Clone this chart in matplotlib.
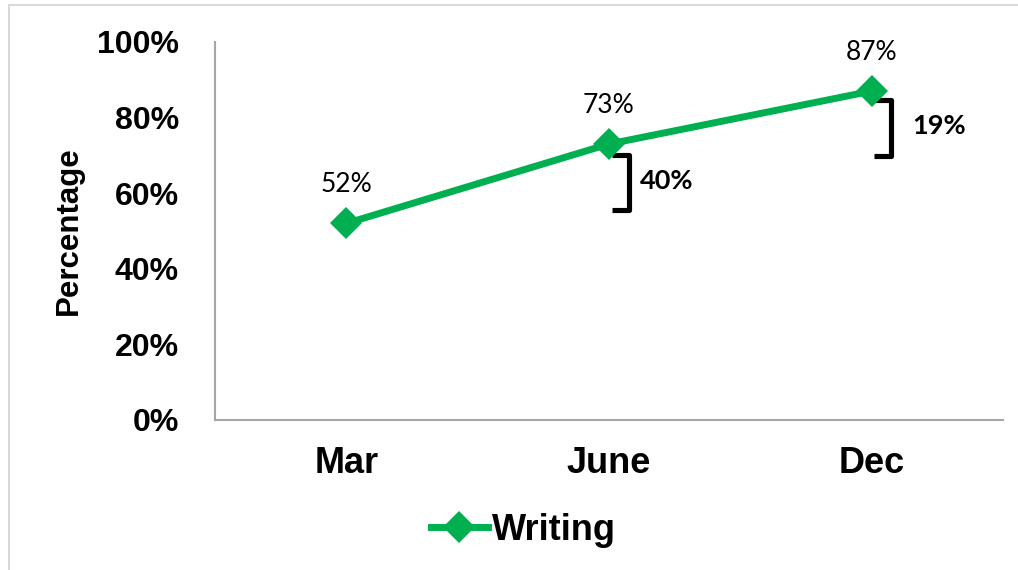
import numpy as np
import matplotlib.pyplot as plt
from matplotlib.lines import Line2D

months = ['Mar', 'June', 'Dec']
writing = [52, 73, 87]
yticks = [0, 20, 40, 60, 80, 100]

# bracket annotations (growth between checkpoints)
gain_labels = ['40%', '19%']
gain_idx = [1, 2]
gain_top = [70.1, 84.7]
gain_bottom = [55.5, 69.9]
gain_text_dx = [0.118, 0.156]

green = '#00B050'
plt.rcParams['font.family'] = ['Liberation Sans', 'DejaVu Sans']

fig = plt.figure(figsize=(10.18, 5.7), dpi=100)
ax = fig.add_axes([0.2112, 0.2632, 0.774, 0.6632])

x = np.arange(len(months))
ax.plot(x, writing, color=green, lw=5, marker='D', ms=16,
        solid_joinstyle='round', markeredgewidth=0, zorder=3)

for xi, v in zip(x, writing):
	ax.annotate(str(v) + '%', (xi, v), xytext=(0, 28), textcoords='offset points',
	            ha='center', va='center', fontsize=19, family=['Lato', 'DejaVu Sans'])

for i, lab, top, bot, dx in zip(gain_idx, gain_labels, gain_top, gain_bottom, gain_text_dx):
	bx = [i + 0.01, i + 0.075, i + 0.075, i + 0.01]
	ax.plot(bx, [top, top, bot, bot], color='black', lw=3.7,
	        solid_joinstyle='round', solid_capstyle='butt', zorder=2)
	ax.text(i + dx, (top + bot) / 2 + 0.5, lab, ha='left', va='center',
	        fontsize=19.5, fontweight='bold', family=['Lato', 'DejaVu Sans'])

ax.set_xlim(-0.5, 2.5)
ax.set_ylim(0, 100)
ax.set_xticks(x)
ax.set_xticklabels(months, fontsize=26, fontweight='bold')
ax.set_yticks(yticks)
ax.set_yticklabels([str(t) + '%' for t in yticks], fontsize=23, fontweight='bold')
ax.tick_params(axis='x', length=0, pad=19)
ax.tick_params(axis='y', length=0, pad=26)
ax.set_ylabel('Percentage', fontsize=22.5, fontweight='bold')
ax.yaxis.set_label_coords(-0.167, 0.5)

for s in ['top', 'right']:
	ax.spines[s].set_visible(False)
for s in ['left', 'bottom']:
	ax.spines[s].set_color('#A6A6A6')
	ax.spines[s].set_linewidth(1.5)

handle = Line2D([], [], color=green, lw=5, marker='D', ms=16, markeredgewidth=0)
fig.legend([handle], ['Writing'], loc='center', bbox_to_anchor=(0.514, 0.07),
           frameon=False, handlelength=1.6, handletextpad=0.1,
           prop={'size': 26, 'weight': 'bold'})

# outer chart border (only top/left visible in reference)
fig.add_artist(Line2D([0.009, 0.009], [0, 0.991], color='#D9D9D9', lw=1.5, transform=fig.transFigure))
fig.add_artist(Line2D([0.009, 1], [0.991, 0.991], color='#D9D9D9', lw=1.5, transform=fig.transFigure))

plt.savefig('out.png', dpi=100)
